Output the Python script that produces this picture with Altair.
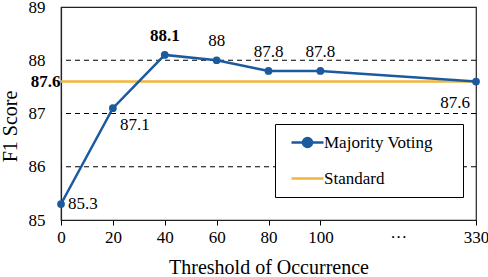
import altair as alt
import pandas as pd

# ---- data ----
thresholds = ["0", "20", "40", "60", "80", "100", "330"]
positions = [0, 1, 2, 3, 4, 5, 8]          # evenly spaced slots; 330 after a gap
f1_scores = [85.3, 87.1, 88.1, 88.0, 87.8, 87.8, 87.6]
standard_score = 87.6
grid_values = [86, 87, 88]
y_ticks = [85, 86, 87, 87.6, 88, 89]
series_names = ["Majority Voting", "Standard"]
gap_pos = 6.5
gap_label = "\u00b7\u00b7\u00b7"

BLUE = "#1c5a9e"
ORANGE = "#f2b43a"
FONT = "Liberation Serif"

def fmt(v):
    s = f"{v:.1f}"
    return s[:-2] if s.endswith(".0") else s

df = pd.DataFrame({
    "thr": thresholds,
    "pos": positions,
    "f1": f1_scores,
    "label": [fmt(v) for v in f1_scores],
    "series": [series_names[0]] * len(thresholds),
})
std_df = pd.DataFrame({"y": [standard_score], "series": [series_names[1]]})
grid_df = pd.DataFrame({"y": grid_values})
leg_df = pd.DataFrame({"series": series_names, "f1": [f1_scores[0], standard_score], "pos": [0, 0]})

# x-axis label expression built from the arrays
tick_vals = positions[:-1] + [gap_pos, positions[-1]]
tick_labs = thresholds[:-1] + [gap_label, thresholds[-1]]
expr = "''"
for v, l in zip(tick_vals, tick_labs):
    expr = f"datum.value == {v} ? '{l}' : ({expr})"

xscale = alt.Scale(domain=[0, 8], nice=False, zero=False)
yscale = alt.Scale(domain=[85, 89], nice=False, zero=False)

# legend glyphs: line + dot, plain line (trailing move-to widens the legend box)
MV_PATH = "M-3.2,0H3.2M-0.9,0A0.9,0.9,0,1,1,0.9,0A0.9,0.9,0,1,1,-0.9,0ZM28,0"
STD_PATH = "M-3.2,0H3.2M28,0"
color_scale = alt.Scale(domain=series_names, range=[BLUE, ORANGE])
fill_scale = alt.Scale(domain=series_names, range=[BLUE, "transparent"])
shape_scale = alt.Scale(domain=series_names, range=[MV_PATH, STD_PATH])

legend = alt.Legend(
    title=None,
    orient="none",
    legendX=214,
    legendY=117,
    fillColor="white",
    strokeColor="black",
    padding=10,
    rowPadding=17,
    symbolSize=100,
    symbolStrokeWidth=2.5,
    symbolFillColor="transparent",
    symbolOpacity=1,
    symbolOffset=14,
    labelOffset=8,
    labelFont=FONT,
    labelFontSize=17,
    labelColor="black",
)

x_axis = alt.Axis(
    values=tick_vals,
    labelExpr=expr,
    title="Threshold of Occurrence",
    grid=False,
    tickSize=5,
    tickColor="black",
    tickOpacity=alt.condition(f"datum.value == {gap_pos}", alt.value(0), alt.value(1)),
    labelPadding=4,
    labelFlush=False,
    titlePadding=12,
)
y_axis = alt.Axis(
    values=y_ticks,
    format=".1~f",
    title="F1 Score",
    grid=False,
    ticks=False,
    labelFontWeight=alt.condition(f"datum.value == {standard_score}", alt.value("bold"), alt.value("normal")),
    labelPadding=alt.condition(f"datum.value == {standard_score}", alt.value(1), alt.value(16)),
    titleX=-45,
    titleY=119,
    titleBaseline="alphabetic",
    labelFlush=False,
)

grid = alt.Chart(grid_df).mark_rule(color="black", strokeWidth=1, strokeDash=[5, 4]).encode(
    y=alt.Y("y:Q", scale=yscale, axis=y_axis)
)

std = alt.Chart(std_df).mark_rule(strokeWidth=2.5, color=ORANGE).encode(
    y=alt.Y("y:Q", scale=yscale),
)

base = alt.Chart(df).encode(
    x=alt.X("pos:Q", scale=xscale, axis=x_axis),
    y=alt.Y("f1:Q", scale=yscale),
)

line = base.mark_line(strokeWidth=2.5, color=BLUE)
pts = base.mark_point(filled=True, size=60, opacity=1, color=BLUE)

# invisible layer that only carries the legend
leg = alt.Chart(leg_df).mark_point(opacity=0, size=100, strokeWidth=2.5).encode(
    x=alt.X("pos:Q", scale=xscale),
    y=alt.Y("f1:Q", scale=yscale),
    color=alt.Color("series:N", scale=color_scale, legend=legend),
    fill=alt.Fill("series:N", scale=fill_scale, legend=legend),
    shape=alt.Shape("series:N", scale=shape_scale, legend=legend),
)

tstyle = dict(font=FONT, fontSize=17, color="black", baseline="middle")
lab_above = base.mark_text(align="center", dy=-19, **tstyle).encode(text="label:N").transform_filter(
    alt.FieldOneOfPredicate(field="thr", oneOf=["60", "80", "100"]))
lab_bold = base.mark_text(align="center", dy=-19, fontWeight="bold", **tstyle).encode(text="label:N").transform_filter(
    alt.FieldOneOfPredicate(field="thr", oneOf=["40"]))
lab_right = base.mark_text(align="left", dx=7, dy=0, **tstyle).encode(text="label:N").transform_filter(
    alt.FieldOneOfPredicate(field="thr", oneOf=["0"]))
lab_below = base.mark_text(align="left", dx=7, dy=17, **tstyle).encode(text="label:N").transform_filter(
    alt.FieldOneOfPredicate(field="thr", oneOf=["20"]))
lab_end = base.mark_text(align="right", dx=-6, dy=21, **tstyle).encode(text="label:N").transform_filter(
    alt.FieldOneOfPredicate(field="thr", oneOf=["330"]))

chart = alt.layer(grid, std, line, pts, leg, lab_above, lab_bold, lab_right, lab_below, lab_end).properties(
    width=415,
    height=213,
    autosize=alt.AutoSizeParams(type="none"),
    padding={"left": 61, "top": 7, "right": 12, "bottom": 57},
    background="white",
).configure_view(
    stroke="#222", strokeWidth=1.2
).configure_axis(
    labelFont=FONT, titleFont=FONT, labelFontSize=17, titleFontSize=20,
    labelColor="black", titleColor="black", titleFontWeight="normal",
    domainColor="#222", domainWidth=1.2,
)

chart.save("out.html", embed_options={"renderer": "svg", "actions": False})
